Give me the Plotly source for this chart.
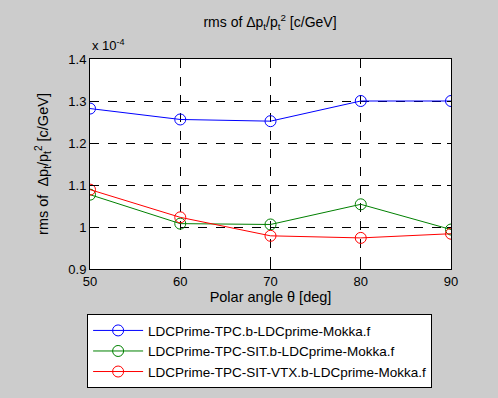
import plotly.graph_objects as go

angles = [50, 60, 70, 80, 90]
tpc = [1.282, 1.256, 1.252, 1.300, 1.300]
tpc_sit = [1.077, 1.008, 1.006, 1.054, 0.994]
tpc_sit_vtx = [1.089, 1.023, 0.979, 0.974, 0.984]
names = ["LDCPrime-TPC.b-LDCprime-Mokka.f",
         "LDCPrime-TPC-SIT.b-LDCprime-Mokka.f",
         "LDCPrime-TPC-SIT-VTX.b-LDCprime-Mokka.f"]
colors = ["#0000ff", "#008000", "#ff0000"]

fig = go.Figure()
for ys, nm, c in zip([tpc, tpc_sit, tpc_sit_vtx], names, colors):
    fig.add_trace(go.Scatter(x=angles, y=ys, name=nm, mode="lines+markers",
                             line=dict(color=c, width=1),
                             marker=dict(symbol="circle-open", size=11, color=c, line=dict(width=1))))

fam = "Liberation Sans, Arial, sans-serif"
tickfont = dict(family=fam, size=13, color="black")
axis_common = dict(showline=True, linecolor="black", linewidth=1, mirror="ticks",
                   ticks="inside", ticklen=4, tickcolor="black",
                   showgrid=True, gridcolor="black", griddash="dash", gridwidth=1,
                   zeroline=False, tickfont=tickfont)
fig.update_layout(
    width=498, height=398,
    paper_bgcolor="#cccccc", plot_bgcolor="white",
    margin=dict(l=90, r=47, t=59, b=129, autoexpand=False),
    font=dict(family=fam, size=13, color="black"),
    title=dict(text="rms of Δp<sub>t</sub>/p<sub>t</sub><sup>2</sup> [c/GeV]",
               x=270/498, xanchor="center", y=1-22/398, yanchor="middle",
               font=dict(size=14)),
    xaxis=dict(range=[50, 90], tickvals=[50, 60, 70, 80, 90],
               title=dict(text="Polar angle θ [deg]", standoff=0, font=dict(size=14.5)),
               **axis_common),
    yaxis=dict(range=[0.9, 1.4], tickvals=[0.9, 1.0, 1.1, 1.2, 1.3, 1.4],
               ticktext=["0.9", "1", "1.1", "1.2", "1.3", "1.4"],
               title=dict(text="rms of  Δp<sub>t</sub>/p<sub>t</sub><sup>2</sup> [c/GeV]", standoff=16,
                          font=dict(size=14.5)),
               **axis_common),
    legend=dict(x=-0.008, y=-0.215, xanchor="left", yanchor="top",
                bgcolor="white", bordercolor="black", borderwidth=1,
                font=dict(size=13.5), tracegroupgap=0, itemwidth=50),
    showlegend=True,
)
fig.add_annotation(text="x 10<sup>-4</sup>", xref="paper", yref="paper",
                   x=0.0, y=1.0, xanchor="left", yanchor="bottom", yshift=4,
                   showarrow=False, font=dict(size=13))
fig.write_html("out.html")
